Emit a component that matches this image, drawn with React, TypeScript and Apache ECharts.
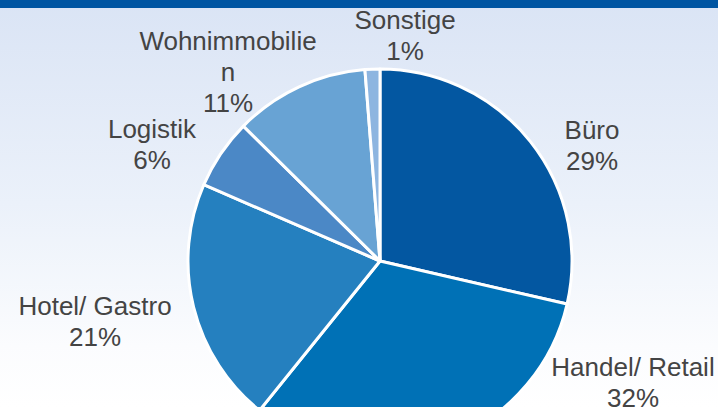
import React, { useEffect, useRef } from "react";
import * as echarts from "echarts";

const categories = ["Büro", "Handel/ Retail", "Hotel/ Gastro", "Logistik", "Wohnimmobilien", "Sonstige"];
// slice shares; labels show them rounded
const values = [28.6, 32.2, 20.7, 5.9, 11.35, 1.25];
const colors = ["#0357A1", "#0071B6", "#2580BF", "#4B88C6", "#68A3D4", "#8DB5E0"];
// label block centers (x, y) in pixels
const labelPos: [number, number][] = [
  [592, 145],
  [633, 382],
  [95, 321],
  [152, 144],
  [228, 72],
  [405, 35],
];

export default function App() {
  const ref = useRef<HTMLDivElement>(null);
  useEffect(() => {
    if (!ref.current) return;
    const chart = echarts.init(ref.current, null, { renderer: "svg" });
    chart.setOption({
      animation: false,
      backgroundColor: new echarts.graphic.LinearGradient(0, 0, 0, 1, [
        { offset: 0, color: "#DAE4F5" },
        { offset: 0.5, color: "#EBF1FA" },
        { offset: 0.85, color: "#FBFCFE" },
        { offset: 1, color: "#FFFFFF" },
      ]),
      graphic: [
        { type: "rect", left: 0, top: 0, shape: { width: 718, height: 8 }, style: { fill: "#0055A2" }, z: 10 },
      ],
      series: [
        {
          type: "pie",
          center: [380, 261],
          radius: 192,
          startAngle: 90,
          clockwise: true,
          avoidLabelOverlap: false,
          itemStyle: { borderColor: "#FFFFFF", borderWidth: 3 },
          emphasis: { disabled: true },
          label: {
            show: true,
            position: "outside",
            formatter: (p: any) => `${p.name}\n${Math.round(p.value)}%`,
            fontFamily: "'Liberation Sans', Arial, sans-serif",
            fontSize: 26,
            lineHeight: 31,
            color: "#444444",
            align: "center",
            width: 185,
            overflow: "breakAll",
          },
          labelLine: { show: false },
          labelLayout: (params: any) => {
            const p = labelPos[params.dataIndex];
            return { x: p[0], y: p[1], align: "center", verticalAlign: "middle" };
          },
          data: categories.map((name, i) => ({
            name,
            value: values[i],
            itemStyle: { color: colors[i] },
          })),
        },
      ],
    });
    return () => chart.dispose();
  }, []);
  return (
    <div
      ref={ref}
      style={{ position: "fixed", left: 0, top: 0, width: 718, height: 407 }}
    />
  );
}
